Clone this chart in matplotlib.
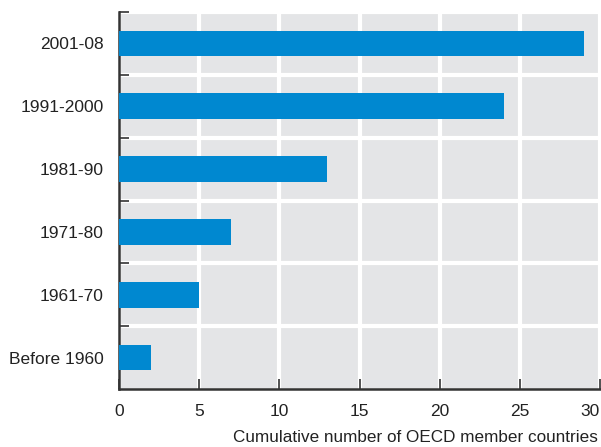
import matplotlib
matplotlib.use("Agg")
import matplotlib.pyplot as plt
from matplotlib import font_manager

# cumulative number of OECD member countries by period of accession
periods = ["Before 1960", "1961-70", "1971-80", "1981-90", "1991-2000", "2001-08"]
members = [2, 5, 7, 13, 24, 29]
xticks = [0, 5, 10, 15, 20, 25, 30]

names = {f.name for f in font_manager.fontManager.ttflist}
fam = ["Liberation Sans Narrow", "DejaVu Sans"] if "Liberation Sans Narrow" in names else ["Liberation Sans", "DejaVu Sans"]
plt.rcParams["font.family"] = fam
fs = 12.5

fig = plt.figure(figsize=(6.01, 4.47), dpi=100)
ax = fig.add_axes([119 / 601, 58 / 447, 481 / 601, 377 / 447])
ax.set_facecolor("#e4e5e7")

ypos = list(range(len(periods)))
ax.barh(ypos, members, height=0.41, color="#0088d0", zorder=3)

ax.set_xlim(0, 30)
ax.set_ylim(-0.5, len(periods) - 0.5)
ax.set_xticks(xticks)
ax.set_xticklabels([str(t) for t in xticks], fontsize=fs, color="#222222")
ax.get_xticklabels()[-1].set_horizontalalignment("right")
ax.set_yticks(ypos)
ax.set_yticklabels(periods, fontsize=fs, color="#222222")
ax.set_yticks([i + 0.5 for i in range(len(periods))], minor=True)

ax.tick_params(axis="y", which="major", length=0, pad=11)
ax.tick_params(axis="y", which="minor", direction="in", length=7, width=1.2, color="#333333")
ax.tick_params(axis="x", which="major", direction="in", length=7, width=1.2, color="#333333", pad=11)

ax.grid(axis="x", which="major", color="white", linewidth=3, zorder=1)
ax.grid(axis="y", which="minor", color="white", linewidth=3, zorder=1)
ax.set_axisbelow(True)

for s in ["top", "right"]:
    ax.spines[s].set_visible(False)
for s in ["left", "bottom"]:
    ax.spines[s].set_color("#333333")
    ax.spines[s].set_linewidth(1.8)

fig.text(598 / 601, 1 - 437 / 447, "Cumulative number of OECD member countries",
         ha="right", va="center", fontsize=fs - 0.2, color="#222222")

fig.savefig("out.png", dpi=100)
